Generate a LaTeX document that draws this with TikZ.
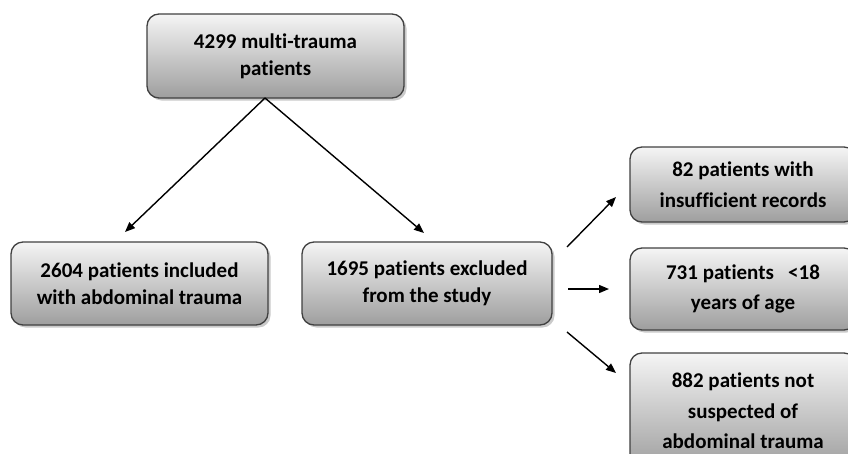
\documentclass[tikz,border=0pt]{standalone}
\usepackage{fontspec}
\setmainfont{Carlito}[Ligatures=NoCommon]
\usetikzlibrary{arrows.meta,shadows}
\begin{document}
\begin{tikzpicture}[x=1pt,y=-1pt,
  box/.style={draw=black!75, line width=1.3pt, rounded corners=12pt,
    top color=white!96!black, bottom color=black!38,
    drop shadow={shadow xshift=2.5pt, shadow yshift=-2.5pt, fill=black!35, opacity=0.6},
    align=center, font=\bfseries\fontsize{21}{27}\selectfont, inner sep=0pt},
  rbox/.style={box, font=\bfseries\fontsize{21}{30.5}\selectfont},
  arr/.style={-{Triangle[length=10pt,width=8pt]}, line width=1.4pt}]
\useasboundingbox (0,0) rectangle (848,453);
\clip (0,0) rectangle (848,453);
\node[box, minimum width=257pt, minimum height=84pt] (top) at (275.5,56) {4299 multi-trauma\\patients};
\node[box, minimum width=257pt, minimum height=83pt] (incl) at (139.5,283.5) {2604 patients included\\with abdominal trauma};
\node[box, minimum width=250pt, minimum height=83pt] (excl) at (427,283.5) {1695 patients excluded\\from the study};
\node[rbox, minimum width=226pt, minimum height=75pt] (r1) at (743,184.5) {82 patients with\\insufficient records};
\node[rbox, minimum width=226pt, minimum height=82pt] (r2) at (743,289) {731 patients \ \ <18\\years of age};
\node[rbox, minimum width=226pt, minimum height=116pt] (r3) at (743,411) {882 patients not\\suspected of\\abdominal trauma};
\coordinate (apex) at (265,98);
\coordinate (a1) at (125,232);
\coordinate (a2) at (424,233);
\draw[arr] (apex) -- (a1);
\draw[arr] (apex) -- (a2);
\coordinate (s1) at (567,247);
\coordinate (e1) at (616,197);
\coordinate (s2) at (568,289);
\coordinate (e2) at (609,289);
\coordinate (s3) at (567,332);
\coordinate (e3) at (616,373);
\draw[arr] (s1) -- (e1);
\draw[arr] (s2) -- (e2);
\draw[arr] (s3) -- (e3);
\end{tikzpicture}
\end{document}
